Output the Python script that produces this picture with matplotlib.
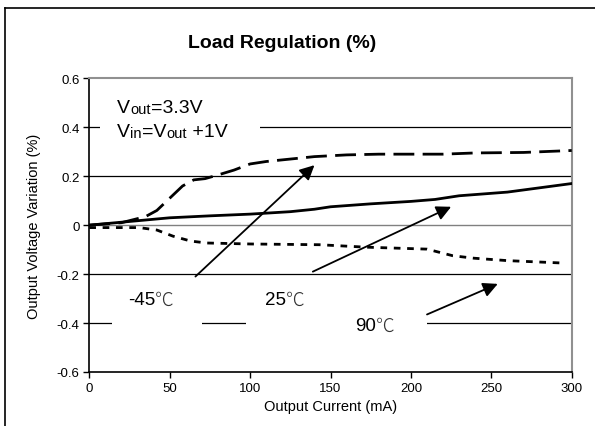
import matplotlib
matplotlib.use("Agg")
import matplotlib.pyplot as plt
from matplotlib.patches import Rectangle
from matplotlib.lines import Line2D

plt.rcParams['font.family'] = ['Liberation Sans', 'Noto Sans CJK SC', 'DejaVu Sans']

# Data
x_m45 = [0, 20, 35, 42, 50, 58, 65, 72, 80, 90, 100, 110, 125, 140, 160, 180, 200, 220, 240, 270, 300]
y_m45 = [0, 0.01, 0.035, 0.06, 0.11, 0.16, 0.185, 0.19, 0.205, 0.225, 0.25, 0.26, 0.27, 0.28, 0.287, 0.29, 0.29, 0.29, 0.295, 0.297, 0.305]

x_25 = [0, 25, 50, 75, 100, 125, 140, 150, 175, 200, 215, 230, 260, 300]
y_25 = [0, 0.015, 0.03, 0.038, 0.045, 0.055, 0.065, 0.075, 0.087, 0.097, 0.105, 0.12, 0.135, 0.17]

x_90 = [0, 31, 42, 52, 63, 73, 100, 143, 172, 210, 226, 239, 260, 295]
y_90 = [-0.01, -0.01, -0.02, -0.045, -0.065, -0.073, -0.077, -0.08, -0.09, -0.098, -0.125, -0.135, -0.145, -0.155]

x_ticks = [0, 50, 100, 150, 200, 250, 300]
y_ticks = [-0.6, -0.4, -0.2, 0, 0.2, 0.4, 0.6]
y_ticklabels = ['-0.6', '-0.4', '-0.2', '0', '0.2', '0.4', '0.6']

labels = ['-45', '25', '90']
label_pos = [(24, -0.305), (109, -0.305), (165, -0.41)]
arrow_from = [(66, -0.21), (139, -0.19), (210, -0.365)]
arrow_to = [(140, 0.245), (225, 0.075), (254, -0.24)]

fig = plt.figure(figsize=(5.95, 4.27), dpi=100)
ax = fig.add_axes([0.1501, 0.1265, 0.8108, 0.6878])

# figure frame (left and top lines)
fig.add_artist(Line2D([5/595, 5/595], [0, 1 - 9/427], color='black', lw=1.2, transform=fig.transFigure))
fig.add_artist(Line2D([5/595, 1], [1 - 9/427, 1 - 9/427], color='black', lw=1.2, transform=fig.transFigure))

ax.set_xlim(0, 300)
ax.set_ylim(-0.6, 0.6)

for yv in [-0.4, -0.2, 0.2, 0.4]:
    ax.axhline(yv, color='black', lw=0.9, zorder=1)
ax.axhline(0, color='#808080', lw=1.0, zorder=1)

# white boxes behind text (cover gridlines)
ax.add_patch(Rectangle((14, -0.44), 56, 0.2, facecolor='white', edgecolor='none', zorder=1.5))
ax.add_patch(Rectangle((97.5, -0.47), 112.5, 0.2, facecolor='white', edgecolor='none', zorder=1.5))
ax.add_patch(Rectangle((6.6, 0.36), 99.4, 0.2, facecolor='white', edgecolor='none', zorder=1.5))

ax.plot(x_m45, y_m45, color='black', lw=2.0, dashes=(7.5, 3), zorder=3)
ax.plot(x_25, y_25, color='black', lw=2.0, zorder=3)
ax.plot(x_90, y_90, color='black', lw=2.0, dashes=(2.4, 2.4), zorder=3)

for (lx, ly), t in zip(label_pos, labels):
    n = ax.text(lx, ly, t, fontsize=13.5, ha='left', va='center', zorder=4)
    ax.annotate('\u2103', xy=(1, 0.5), xycoords=n, fontsize=13.5, ha='left', va='center',
                family=['Noto Sans CJK JP'], fontweight='light', color='#333333', zorder=4)

for (fx, fy), (tx, ty) in zip(arrow_from, arrow_to):
    ax.annotate('', xy=(tx, ty), xytext=(fx, fy),
                arrowprops=dict(arrowstyle='-|>', color='black', lw=1.3, mutation_scale=22,
                                shrinkA=0, shrinkB=0), zorder=4)

# Vout / Vin text
fs_big, fs_small = 14, 10.5
t1 = ax.text(0.058, 0.885, 'V', transform=ax.transAxes, fontsize=fs_big, va='baseline', ha='left', zorder=4)
t2 = ax.annotate('out', xy=(1, 0), xycoords=t1, fontsize=fs_small, va='bottom', ha='left', zorder=4)
t3 = ax.annotate('=3.3V', xy=(1, 0), xycoords=t2, fontsize=fs_big, va='bottom', ha='left', zorder=4)
s1 = ax.text(0.058, 0.805, 'V', transform=ax.transAxes, fontsize=fs_big, va='baseline', ha='left', zorder=4)
s2 = ax.annotate('in', xy=(1, 0), xycoords=s1, fontsize=fs_small, va='bottom', ha='left', zorder=4)
s3 = ax.annotate('=V', xy=(1, 0), xycoords=s2, fontsize=fs_big, va='bottom', ha='left', zorder=4)
s4 = ax.annotate('out', xy=(1, 0), xycoords=s3, fontsize=fs_small, va='bottom', ha='left', zorder=4)
s5 = ax.annotate(' +1V', xy=(1, 0), xycoords=s4, fontsize=fs_big, va='bottom', ha='left', zorder=4)

ax.set_xticks(x_ticks)
ax.set_xticklabels([str(v) for v in x_ticks], fontsize=9.5)
ax.set_yticks(y_ticks)
ax.set_yticklabels(y_ticklabels, fontsize=9.5)
ax.tick_params(direction='out', length=4, width=1, pad=3)

ax.set_xlabel('Output Current (mA)', fontsize=10.5, labelpad=4)
ax.set_ylabel('Output Voltage Variation (%)', fontsize=10.5, labelpad=11)

for s in ['left', 'bottom']:
    ax.spines[s].set_color('black')
    ax.spines[s].set_linewidth(1.2)
for s in ['top', 'right']:
    ax.spines[s].set_color('#909090')
    ax.spines[s].set_linewidth(1.5)

fig.text(0.474, 1 - 44/427, 'Load Regulation (%)', fontsize=14, fontweight='bold', ha='center', va='center')

fig.savefig('out.png', dpi=100)
